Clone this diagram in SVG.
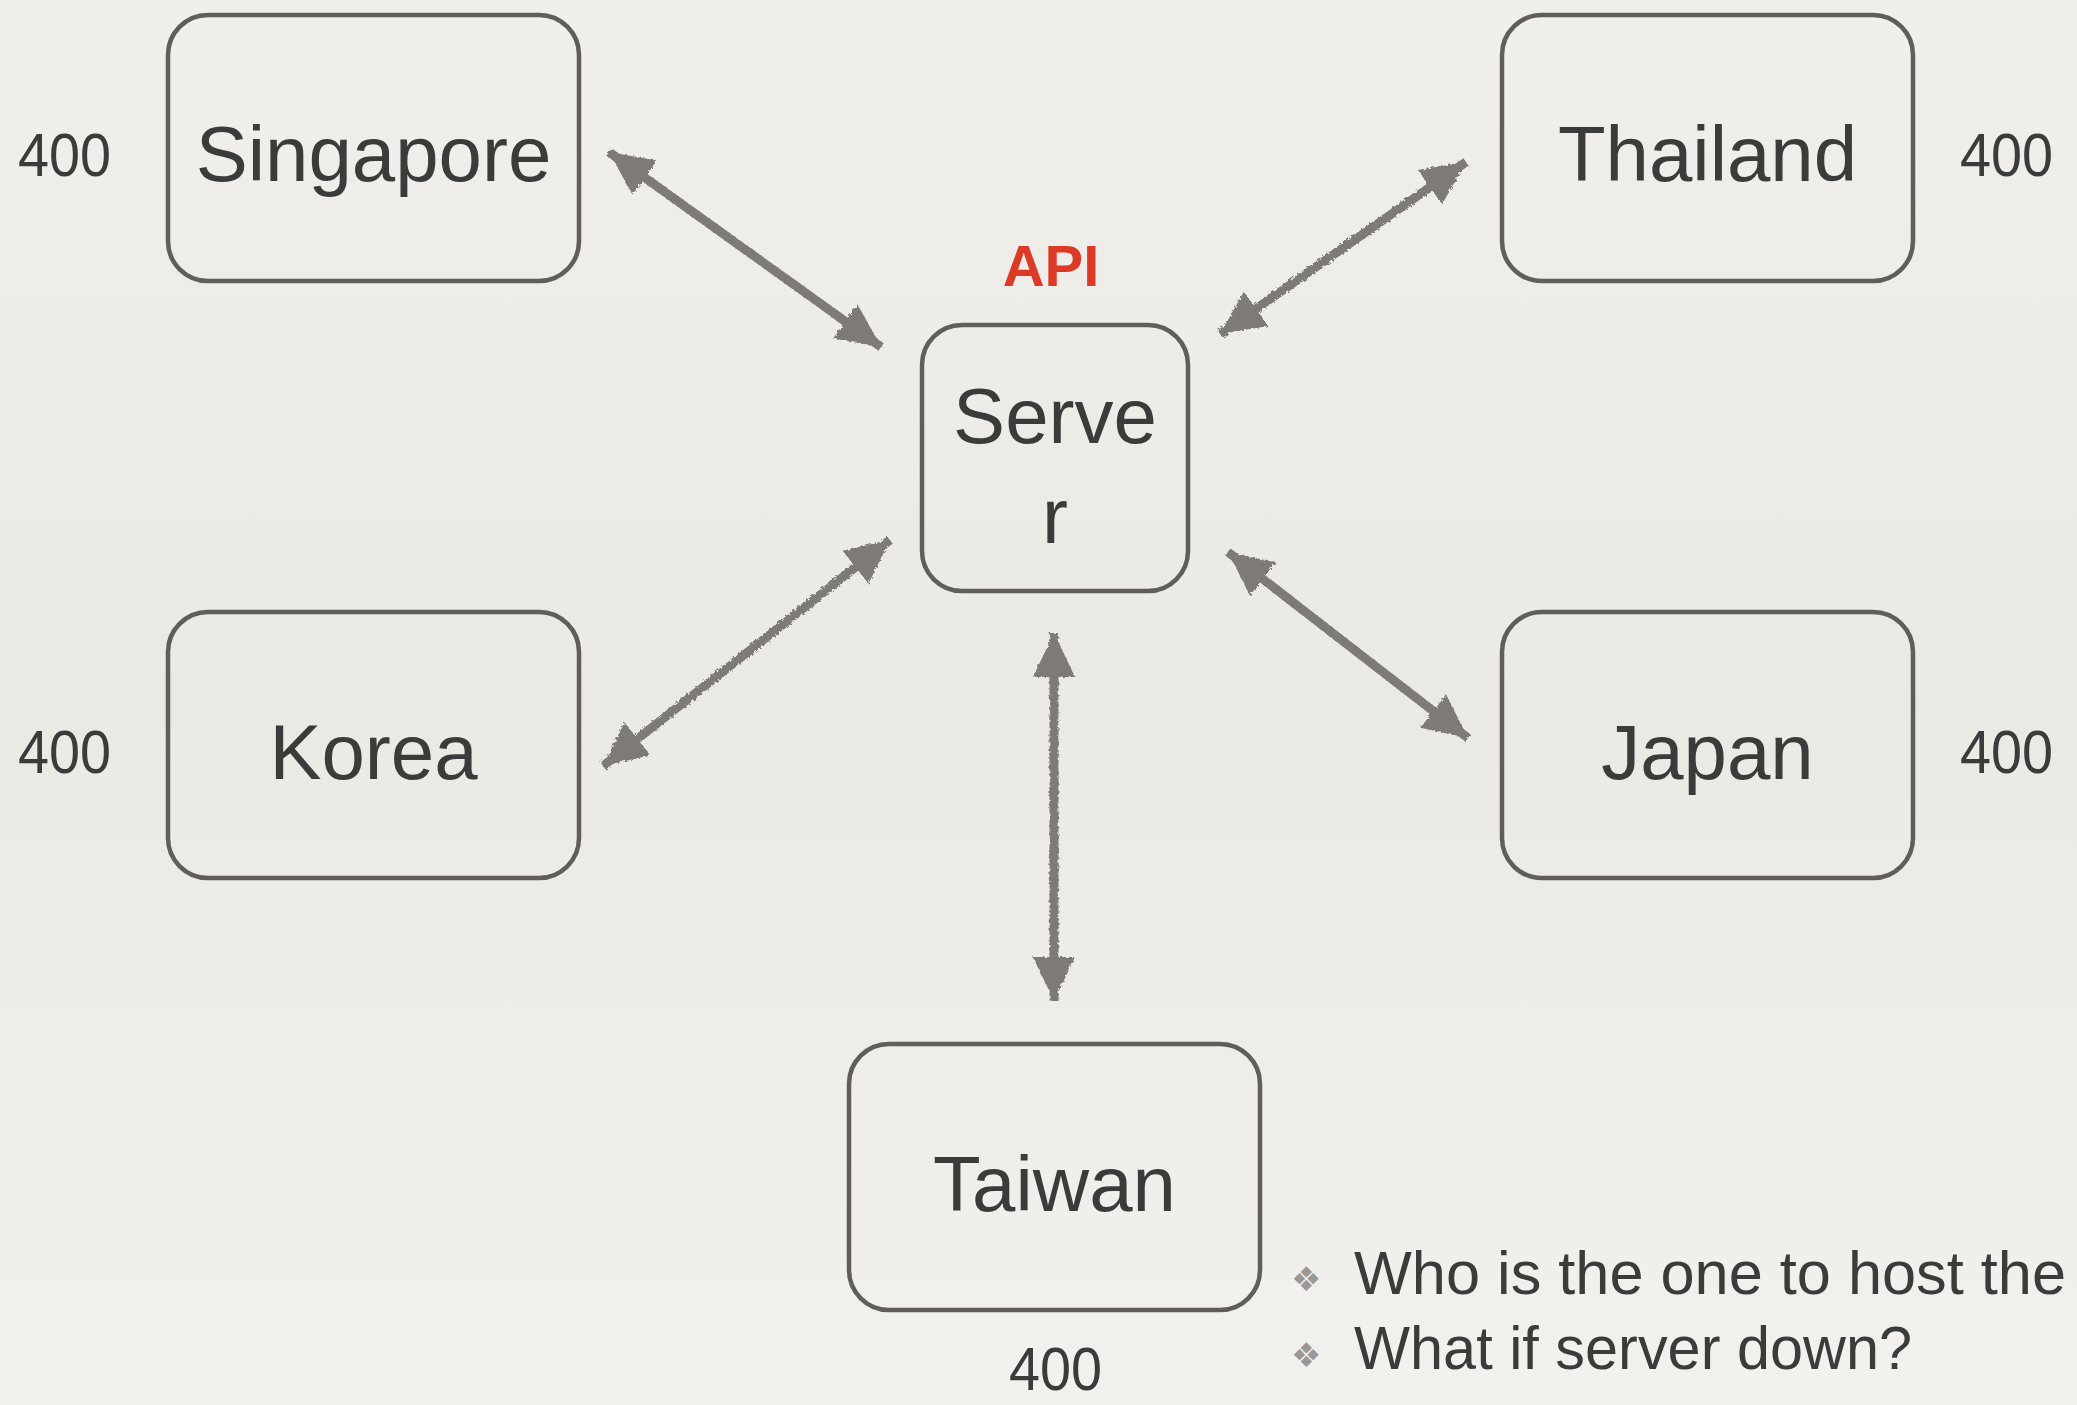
<svg xmlns="http://www.w3.org/2000/svg" width="2077" height="1405" viewBox="0 0 2077 1405">
  <defs>
    <linearGradient id="bg" x1="0" y1="0" x2="0" y2="1">
      <stop offset="0" stop-color="#f1efeb"/>
      <stop offset="0.5" stop-color="#ebe9e4"/>
      <stop offset="1" stop-color="#f3f1ed"/>
    </linearGradient>
    <filter id="rough" x="-10%" y="-10%" width="120%" height="120%">
      <feTurbulence type="fractalNoise" baseFrequency="0.35" numOctaves="2" seed="3"/>
      <feDisplacementMap in="SourceGraphic" scale="4"/>
    </filter>
    <marker id="head" viewBox="0 0 44 44" refX="44" refY="22" markerWidth="44" markerHeight="44" markerUnits="userSpaceOnUse" orient="auto-start-reverse">
      <path d="M0,1 L44,22 L0,43 Z" fill="#7d7a77"/>
    </marker>
  </defs>
  <style>
    .box { fill: none; stroke: #605d5a; stroke-width: 4.5; }
    .lbl { font-family: "Liberation Sans", Arial, sans-serif; font-size: 78px; fill: #3b3b3b; text-anchor: middle; }
    .num { font-family: "Liberation Sans", Arial, sans-serif; font-size: 62px; fill: #3b3b3b; }
    .bul { font-family: "Liberation Sans", Arial, sans-serif; font-size: 61px; fill: #3b3b3b; }
    .dia { font-family: "DejaVu Sans", sans-serif; font-size: 34px; fill: #9a9895; }
    .con { stroke: #7d7a77; stroke-width: 9; fill: none; marker-start: url(#head); marker-end: url(#head); }
  </style>
  <rect x="0" y="0" width="2077" height="1405" fill="url(#bg)"/>

  <g id="connectors" filter="url(#rough)">
    <line class="con" x1="609" y1="152" x2="881" y2="347"/>
    <line class="con" x1="1466" y1="162" x2="1220" y2="334"/>
    <line class="con" x1="603" y1="766" x2="890" y2="540"/>
    <line class="con" x1="1228" y1="552" x2="1468" y2="738"/>
    <line class="con" x1="1054" y1="633" x2="1054" y2="1001"/>
  </g>

  <g id="singapore">
    <rect class="box" x="168" y="15" width="411" height="266" rx="40"/>
    <text class="lbl" x="373.5" y="181">Singapore</text>
  </g>
  <g id="thailand">
    <rect class="box" x="1502" y="15" width="411" height="266" rx="40"/>
    <text class="lbl" x="1707.5" y="181">Thailand</text>
  </g>
  <g id="server">
    <rect class="box" x="922" y="325" width="266" height="266" rx="40"/>
    <text class="lbl" x="1055" y="443">Serve</text>
    <text class="lbl" x="1055" y="543">r</text>
  </g>
  <g id="api">
    <text x="1051" y="286" font-family="Liberation Sans, Arial, sans-serif" font-size="58" font-weight="bold" fill="#dc3a27" text-anchor="middle">API</text>
  </g>
  <g id="korea">
    <rect class="box" x="168" y="612" width="411" height="266" rx="40"/>
    <text class="lbl" x="373.5" y="779">Korea</text>
  </g>
  <g id="japan">
    <rect class="box" x="1502" y="612" width="411" height="266" rx="40"/>
    <text class="lbl" x="1707.5" y="779">Japan</text>
  </g>
  <g id="taiwan">
    <rect class="box" x="849" y="1044" width="411" height="266" rx="40"/>
    <text class="lbl" x="1054.5" y="1211">Taiwan</text>
  </g>

  <g id="counts">
    <text class="num" x="18" y="176" textLength="93" lengthAdjust="spacingAndGlyphs">400</text>
    <text class="num" x="1960" y="176" textLength="93" lengthAdjust="spacingAndGlyphs">400</text>
    <text class="num" x="18" y="773" textLength="93" lengthAdjust="spacingAndGlyphs">400</text>
    <text class="num" x="1960" y="773" textLength="93" lengthAdjust="spacingAndGlyphs">400</text>
    <text class="num" x="1009" y="1390" textLength="93" lengthAdjust="spacingAndGlyphs">400</text>
  </g>

  <g id="notes">
    <text class="dia" x="1291" y="1291">❖</text>
    <text class="bul" x="1354" y="1294" textLength="712" lengthAdjust="spacingAndGlyphs">Who is the one to host the</text>
    <text class="dia" x="1291" y="1367">❖</text>
    <text class="bul" x="1354" y="1369" textLength="558" lengthAdjust="spacingAndGlyphs">What if server down?</text>
  </g>
</svg>
